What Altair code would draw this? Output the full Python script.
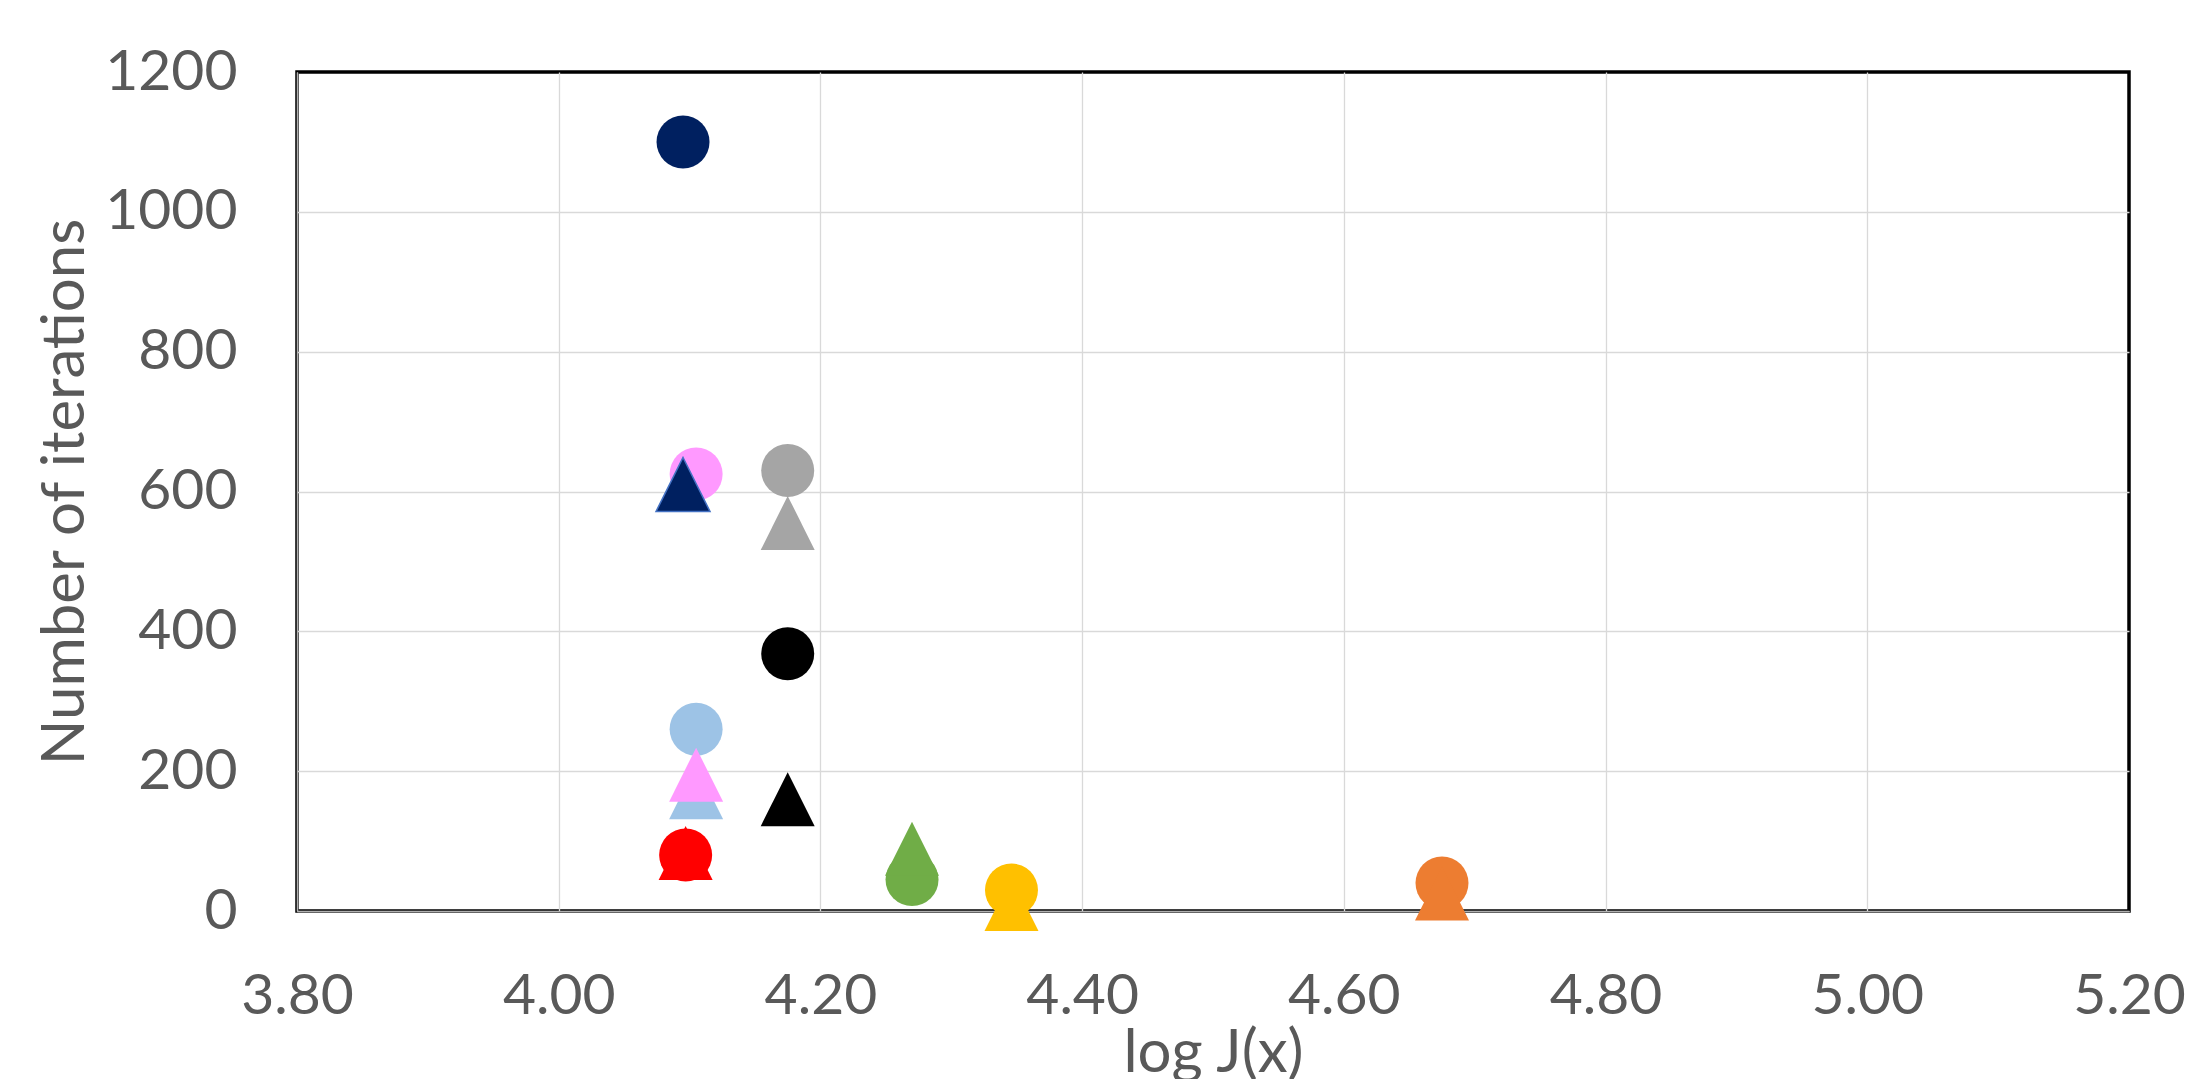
import altair as alt
import pandas as pd

# ---- data ----
circle_series = ["S1", "S2", "S3", "S4", "S5", "S6", "S7", "S8", "S9"]
circle_x = [4.095, 4.105, 4.175, 4.175, 4.105, 4.097, 4.270, 4.346, 4.675]
circle_y = [1100, 625, 630, 368, 260, 80, 45, 30, 40]

# triangle draw order matters for overlaps
tri_series = ["S1", "S3", "S4", "S5", "S2", "S6", "S7", "S8", "S9"]
tri_x = [4.095, 4.175, 4.175, 4.105, 4.105, 4.097, 4.270, 4.346, 4.675]
tri_y = [610, 555, 160, 170, 195, 83, 89, 10, 25]

x_ticks = [3.8, 4.0, 4.2, 4.4, 4.6, 4.8, 5.0, 5.2]
y_ticks = [0, 200, 400, 600, 800, 1000, 1200]

series_domain = ["S1", "S2", "S3", "S4", "S5", "S6", "S7", "S8", "S9"]
series_colors = ["#002060", "#ff99ff", "#a5a5a5", "#000000", "#9dc3e6",
                 "#ff0000", "#70ad47", "#ffc000", "#ed7d31"]

circles = pd.DataFrame({"series": circle_series, "x": circle_x, "y": circle_y})
tris = pd.DataFrame({"series": tri_series, "x": tri_x, "y": tri_y,
                     "order": list(range(len(tri_series)))})

W, H = 1832, 839
FONT = "Lato"
GREY = "#595959"

x_enc = alt.X("x:Q",
              scale=alt.Scale(domain=[3.8, 5.2], nice=False, zero=False),
              axis=alt.Axis(values=x_ticks, format=".2f", grid=True,
                            gridColor="#d9d9d9", gridWidth=1.3,
                            gridOpacity=alt.condition("datum.value > 5.1",
                                                      alt.value(0), alt.value(1)),
                            ticks=False, tickSize=0,
                            domainColor="#b0b0b0", domainWidth=1.2,
                            labelFont=FONT, labelFontSize=57, labelColor=GREY,
                            labelBaseline="alphabetic", labelPadding=102,
                            labelFlush=False, labelOverlap=False,
                            title="log J(x)", titleFont=FONT, titleFontSize=60,
                            titleFontWeight="normal", titleColor=GREY,
                            titleBaseline="alphabetic", titleAlign="center",
                            titleX=W / 2, titleY=160))
y_enc = alt.Y("y:Q",
              scale=alt.Scale(domain=[0, 1200], nice=False, zero=False),
              axis=alt.Axis(values=y_ticks, format="d", grid=True,
                            gridColor="#d9d9d9", gridWidth=1.3,
                            gridOpacity=alt.condition("datum.value > 1100",
                                                      alt.value(0), alt.value(1)),
                            ticks=False, tickSize=0,
                            domainColor="#b0b0b0", domainWidth=1.2,
                            labelFont=FONT, labelFontSize=57, labelColor=GREY,
                            labelBaseline="middle", labelAlign="right",
                            labelPadding=60, labelFlush=False, labelOverlap=False,
                            title="Number of iterations", titleFont=FONT,
                            titleFontSize=60, titleFontWeight="normal",
                            titleColor=GREY, titleAngle=270,
                            titleBaseline="alphabetic", titleAlign="center",
                            titleX=-214, titleY=H / 2))

color_scale = alt.Scale(domain=series_domain, range=series_colors)

circle_layer = alt.Chart(circles).mark_point(
    shape="circle", filled=True, opacity=1, size=2809
).encode(
    x=x_enc, y=y_enc,
    color=alt.Color("series:N", scale=color_scale, legend=None),
)

tri_layer = alt.Chart(tris).mark_point(
    shape="M0,-1L1,1L-1,1Z", filled=True, opacity=1, size=2916, strokeWidth=1.5
).encode(
    x=x_enc, y=y_enc,
    fill=alt.Fill("series:N", scale=color_scale, legend=None),
    stroke=alt.condition(alt.datum.series == "S1", alt.value("#4472c4"),
                         alt.value("transparent")),
    order=alt.Order("order:Q"),
)

chart = alt.layer(circle_layer, tri_layer).properties(
    width=W, height=H,
    background="white",
    autosize=alt.AutoSizeParams(type="none"),
    padding={"left": 289, "top": 64, "right": 60, "bottom": 168},
).configure_view(
    stroke="black", strokeWidth=3.5
)

chart.save("out.html", embed_options={"renderer": "svg", "actions": False})
